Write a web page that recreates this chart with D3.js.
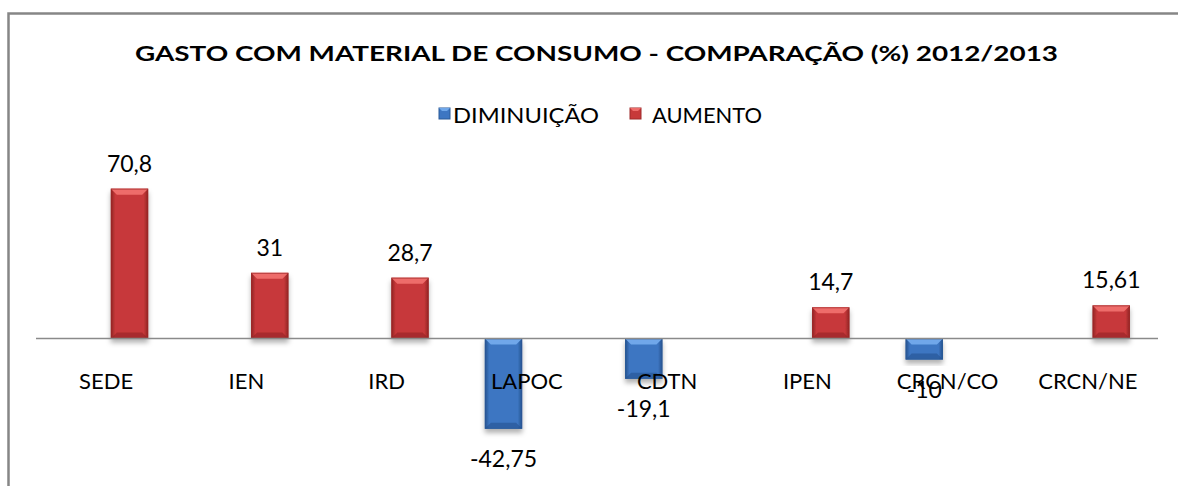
<!DOCTYPE html>
<html>
<head>
<meta charset="utf-8">
<script src="https://cdn.jsdelivr.net/npm/d3@7/dist/d3.min.js"></script>
<style>
  html, body { margin: 0; padding: 0; background: #fff; }
  svg { display: block; }
  text { font-family: Lato, "Open Sans", sans-serif; fill: #000; }
</style>
</head>
<body>
<div id="chart"></div>
<script>
// ---- data ----
const titleText = "GASTO COM MATERIAL DE CONSUMO - COMPARAÇÃO (%) 2012/2013";
const categories = ["SEDE", "IEN", "IRD", "LAPOC", "CDTN", "IPEN", "CRCN/CO", "CRCN/NE"];
const seriesNames = ["DIMINUIÇÃO", "AUMENTO"];
const diminuicao = [null, null, null, -42.75, -19.1, null, -10, null];
const aumento = [70.8, 31, 28.7, null, null, 14.7, null, 15.61];
const valueLabels = {
  "DIMINUIÇÃO": [null, null, null, "-42,75", "-19,1", null, "-10", null],
  "AUMENTO": ["70,8", "31", "28,7", null, null, "14,7", null, "15,61"]
};

// ---- layout ----
const W = 1178, H = 486;
const svg = d3.select("#chart").append("svg").attr("width", W).attr("height", H);
svg.append("rect").attr("width", W).attr("height", H).attr("fill", "#fff");

const defs = svg.append("defs");
const palettes = {
  "DIMINUIÇÃO": { body: "#3D76C2", light: "#6FA7EA", dark: "#24508C", edge: "#2B5A98" },
  "AUMENTO": { body: "#C7393A", light: "#EE6C6A", dark: "#8E2323", edge: "#9E2A2A" }
};
Object.entries(palettes).forEach(([k, p], i) => {
  const g = defs.append("linearGradient").attr("id", "hg" + i).attr("x1", 0).attr("x2", 1).attr("y1", 0).attr("y2", 0);
  g.append("stop").attr("offset", "0%").attr("stop-color", p.dark);
  g.append("stop").attr("offset", "12%").attr("stop-color", p.body);
  g.append("stop").attr("offset", "50%").attr("stop-color", p.body);
  g.append("stop").attr("offset", "88%").attr("stop-color", p.body);
  g.append("stop").attr("offset", "100%").attr("stop-color", p.dark);
  p.grad = "url(#hg" + i + ")";
});
const f = defs.append("filter").attr("id", "shadow").attr("x", "-30%").attr("y", "-30%").attr("width", "160%").attr("height", "160%");
f.append("feDropShadow").attr("dx", 0).attr("dy", 4).attr("stdDeviation", 2.5).attr("flood-color", "#000").attr("flood-opacity", 0.3);

// scales
const x = d3.scaleBand().domain(categories).range([36, 1158]).paddingInner(0).paddingOuter(0);
const xs = d3.scaleBand().domain(seriesNames).range([0, x.bandwidth()]).paddingInner(0.2).paddingOuter(0.6);
const y = d3.scaleLinear().domain([-50, 80]).range([338.4 + 50 * 2.115, 338.4 - 80 * 2.115]);

// border
svg.append("path").attr("d", `M8.5,486 L8.5,13.5 L1178,13.5`).attr("fill", "none").attr("stroke", "#868686").attr("stroke-width", 2.5);

// title
svg.append("text").attr("x", 596.5).attr("y", 60.5).attr("text-anchor", "middle")
  .attr("font-weight", "bold").attr("font-size", 21)
  .attr("textLength", 923).attr("lengthAdjust", "spacingAndGlyphs")
  .text(titleText);

// bevelled bar drawing
function drawBar(g, bx, by, bw, bh, p) {
  const grp = g.append("g").attr("filter", "url(#shadow)");
  grp.append("rect").attr("x", bx).attr("y", by).attr("width", bw).attr("height", bh).attr("fill", p.grad);
  const b = Math.min(6, bh / 2);
  grp.append("path").attr("d", `M${bx},${by} L${bx + bw},${by} L${bx + bw - b},${by + b} L${bx + b},${by + b} Z`).attr("fill", p.light);
  grp.append("path").attr("d", `M${bx},${by + bh} L${bx + bw},${by + bh} L${bx + bw - b},${by + bh - b} L${bx + b},${by + bh - b} Z`).attr("fill", p.dark).attr("opacity", 0.55);
  grp.append("rect").attr("x", bx + 0.5).attr("y", by + 0.5).attr("width", bw - 1).attr("height", bh - 1).attr("fill", "none").attr("stroke", p.edge).attr("stroke-width", 1).attr("opacity", 0.7);
}

const seriesData = { "DIMINUIÇÃO": diminuicao, "AUMENTO": aumento };
const barsG = svg.append("g");
seriesNames.forEach(s => {
  const p = palettes[s];
  seriesData[s].forEach((v, i) => {
    if (v == null) return;
    const bx = x(categories[i]) + xs(s);
    const y0 = y(0), y1 = y(v);
    drawBar(barsG, bx, Math.min(y0, y1), xs.bandwidth(), Math.abs(y1 - y0), p);
  });
});

// zero axis line
svg.append("line").attr("x1", x.range()[0]).attr("x2", x.range()[1]).attr("y1", y(0)).attr("y2", y(0))
  .attr("stroke", "#8a8a8a").attr("stroke-width", 1.5);

// category labels via axis
const axisG = svg.append("g").attr("transform", `translate(0,${y(0)})`)
  .call(d3.axisBottom(x).tickSize(0).tickPadding(0));
axisG.select(".domain").remove();
axisG.selectAll("text").attr("y", 50.6).attr("dy", 0).attr("font-size", 22)
  .style("font-family", "Lato, 'Open Sans', sans-serif").attr("fill", "#000");

// data labels
const lblG = svg.append("g");
seriesNames.forEach(s => {
  seriesData[s].forEach((v, i) => {
    if (v == null) return;
    const cx = x(categories[i]) + xs(s) + xs.bandwidth() / 2;
    const ty = v >= 0 ? y(v) - 17 : y(v) + 38.4;
    lblG.append("text").attr("x", cx).attr("y", ty).attr("text-anchor", "middle")
      .attr("font-size", 23).text(valueLabels[s][i]);
  });
});

// legend
const legendItems = [
  { name: seriesNames[0], mx: 439, tx: 453, tl: 146 },
  { name: seriesNames[1], mx: 630, tx: 652, tl: 110 }
];
const lg = svg.append("g");
legendItems.forEach(it => {
  const p = palettes[it.name];
  lg.append("rect").attr("x", it.mx).attr("y", 108).attr("width", 11).attr("height", 11).attr("fill", p.body).attr("stroke", p.edge);
  lg.append("path").attr("d", `M${it.mx},108 L${it.mx + 11},108 L${it.mx + 8},111 L${it.mx + 3},111 Z`).attr("fill", p.light);
  lg.append("text").attr("x", it.tx).attr("y", 123.3).attr("font-size", 21)
    .attr("textLength", it.tl).attr("lengthAdjust", "spacingAndGlyphs").text(it.name);
});
</script>
</body>
</html>
